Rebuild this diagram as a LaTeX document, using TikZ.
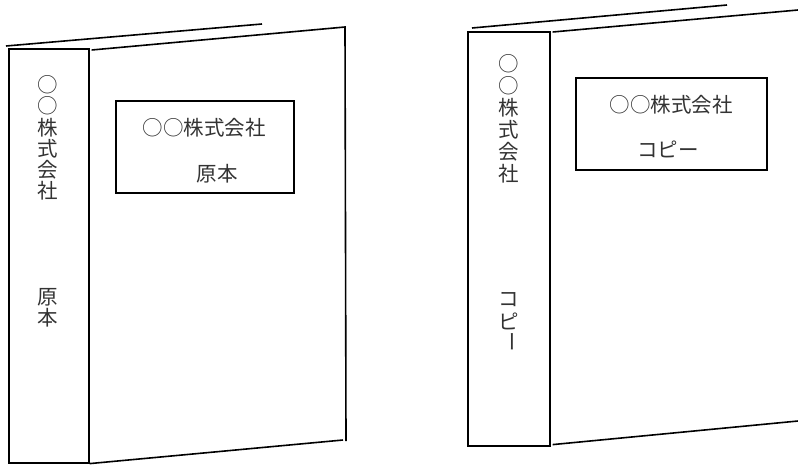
\documentclass[tikz,border=0pt]{standalone}
\usepackage{fontspec}
\usepackage{tikz}
\newfontfamily\jpfont{Noto Sans CJK JP}

\tikzset{
  jp/.style={font=\jpfont\fontsize{20.5}{21}\selectfont, text=black!80, inner sep=0pt},
  cover/.style={line width=1.6pt},
  label box/.style={rectangle, draw, line width=1.6pt, anchor=north west}
}

\begin{document}
\begin{tikzpicture}[x=1pt, y=-1pt]
            \useasboundingbox (0,0) rectangle (798,464);

            % Left book (original)
            \draw[cover] (6,46) -- (262,24);
            \node[label box, minimum width=80pt, minimum height=414pt] (spL) at (8,48) {};
            \draw[cover] (spL.north east) ++(2,2) -- (345,27) -- (346,441);
            \draw[cover] (spL.south east) -- (343,440);
            \node[label box, minimum width=178pt, minimum height=92pt] (boxL) at (115,100) {};
            \node[jp] (tL1) at (204,128) {○○株式会社};
            \node[jp] (tL2) at (217,174) {原本};
            \foreach \c [count=\i] in {○,○,株,式,会,社}
              \node[jp] (sL\i) at (48,{85+21.2*(\i-1)}) {\c};
            \node[jp] (sL7) at (48,297) {原};
            \node[jp] (sL8) at (48,318) {本};

            % Right book (copy)
            \draw[cover] (472,28) -- (727,5);
            \node[label box, minimum width=82pt, minimum height=414pt] (spR) at (467,31) {};
            \draw[cover] (spR.north east) ++(2,1) -- (798,10);
            \draw[cover] (spR.south east) ++(2,-2) -- (798,421);
            \node[label box, minimum width=191pt, minimum height=92pt] (boxR) at (575,77) {};
            \node[jp] (tR1) at (671,105) {○○株式会社};
            \node[jp] (tR2) at (668,149) {コピー};
            \foreach \c [count=\i] in {○,○,株,式,会,社}
              \node[jp] (sR\i) at (509,{64+22*(\i-1)}) {\c};
            \node[jp] (sR7) at (509,300) {コ};
            \node[jp] (sR8) at (509,321) {ピ};
            \node[jp, rotate=-90] (sR9) at (509,342) {ー};
        \end{tikzpicture}
\end{document}
